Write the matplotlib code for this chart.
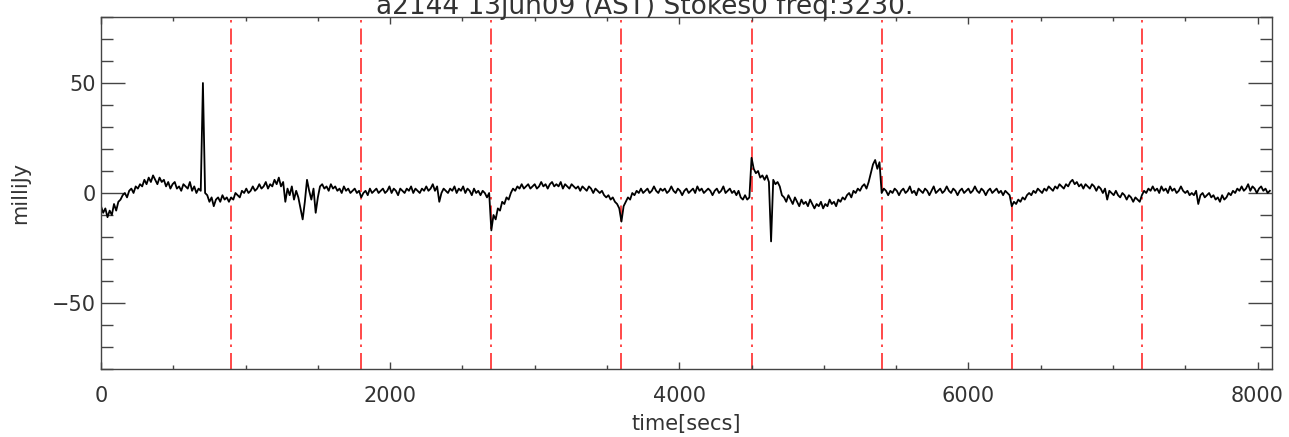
import numpy as np
import matplotlib
matplotlib.use('Agg')
import matplotlib.pyplot as plt
from matplotlib.ticker import MultipleLocator

# Stokes0 flux in milliJy, one list per 900 s scan, sampled every 15 s
scan_len = 900
step = 15
scan1 = [-6, -9, -7, -11, -8, -10, -5, -8, -4, -3,
         -1, 0, -2, 1, 2, 0, 3, 2, 4, 3,
         6, 4, 7, 5, 8, 6, 4, 7, 5, 6,
         3, 5, 2, 4, 5, 2, 3, 1, 4, 3,
         2, 5, 1, 3, 0, 2, 1, 50, 0, -1,
         -4, -2, -6, -3, -2, -4, -1, -3, -2, -4]
scan2 = [-2, -3, 0, -1, -2, 1, 0, 2, 0, 1,
         3, 1, 2, 4, 2, 3, 5, 2, 4, 3,
         6, 4, 7, 3, 5, -4, 2, -1, 3, -3,
         1, -2, -7, -12, -4, 6, 1, -3, 2, -9,
         -2, 3, 4, 2, 3, 1, 4, 2, 3, 1,
         2, 0, 3, 1, 2, 0, 1, 2, 0, 1]
scan3 = [-2, 0, 1, -1, 2, 0, 1, 2, 0, 1,
         2, 0, 1, 3, 0, 2, 1, -1, 2, 1,
         0, 2, 1, 3, 0, 2, 1, 0, 2, 1,
         3, 1, 2, 4, 1, 3, -4, 0, 2, 1,
         0, 2, 1, 3, 0, 2, 1, 3, 0, 2,
         1, -1, 2, 0, 1, -1, 1, 0, -2, 0]
scan4 = [-17, -10, -12, -7, -8, -4, -5, -2, -3, 0,
         2, 1, 3, 2, 4, 2, 3, 4, 2, 3,
         4, 2, 3, 5, 3, 4, 2, 4, 5, 3,
         4, 3, 5, 2, 4, 3, 2, 4, 3, 2,
         3, 1, 3, 2, 1, 3, 2, 0, 2, 1,
         0, 1, -1, -2, -1, -3, -2, -4, -5, -7]
scan5 = [-13, -6, -4, -2, -3, 0, -1, 1, 0, 2,
         0, 1, 2, 0, 1, 3, 1, 0, 2, 1,
         2, 0, 1, 3, 1, 0, 2, 1, -1, 1,
         2, 0, 1, 2, 0, 3, 1, 2, 0, 1,
         2, 1, -1, 1, 2, 0, 1, 3, 0, 1,
         2, 0, 1, -1, 1, -2, -3, -1, -3, -2]
scan6 = [16, 11, 9, 10, 7, 8, 6, 8, 5, -22,
         6, 4, 5, 3, -1, -2, -4, -1, -3, -5,
         -2, -4, -6, -3, -5, -4, -6, -3, -5, -7,
         -5, -6, -4, -7, -5, -6, -3, -5, -4, -6,
         -3, -4, -2, -3, -1, 0, -2, 1, 0, 2,
         1, 3, 4, 2, 5, 9, 13, 15, 11, 14]
scan7 = [0, 2, 1, -1, 1, 0, 2, 1, -1, 1,
         2, 0, 1, 3, 0, 1, -1, 2, 1, 0,
         2, 1, -1, 1, 3, 0, 1, 2, 0, 1,
         3, 1, 0, 2, 1, -1, 1, 2, 0, 1,
         2, 0, 1, 3, 1, 0, 2, 1, -1, 1,
         2, 0, 1, 2, 0, 1, -1, 1, 0, -1]
scan8 = [-6, -4, -5, -3, -4, -2, -3, -1, 0, -1,
         1, 0, 2, 1, 0, 2, 1, 3, 2, 1,
         3, 2, 4, 3, 2, 4, 3, 5, 6, 4,
         5, 3, 4, 2, 4, 3, 2, 4, 3, 1,
         3, 2, 0, 2, -3, 1, 0, -1, 1, -1,
         -2, 0, -1, -3, -1, -2, -4, -2, -3, -4]
scan9 = [-1, 1, 0, 2, 1, 3, 1, 2, 0, 3,
         1, 2, 0, 3, 1, 2, 0, 1, 3, 1,
         0, 1, -1, 0, -1, 1, -5, -1, 0, -2,
         -1, 0, -2, -1, -3, -2, -4, -1, -3, -2,
         0, -1, 1, 0, 2, 1, 3, 1, 2, 4,
         1, 3, 2, 0, 2, 3, 1, 2, 0, 1]
scans = [scan1, scan2, scan3, scan4, scan5, scan6, scan7, scan8, scan9]

flux = np.concatenate(scans)
time = np.arange(len(flux)) * step
scan_starts = [i * scan_len for i in range(len(scans))]

title = 'a2144 13jun09 (AST) Stokes0 freq:3230.'

plt.rcParams['font.family'] = ['DejaVu Sans']
fig = plt.figure(figsize=(12.89, 4.37), dpi=100)
ax = fig.add_axes([101 / 1289, 68 / 437, 1171 / 1289, 352 / 437])

for s in scan_starts:
    ax.axvline(s, color='#ff2a2a', lw=1.2, dashes=(9.6, 3.6, 1.5, 3.0), zorder=1)
ax.plot(time, flux, color='black', lw=1.3, zorder=2)

ax.set_xlim(0, 8100)
ax.set_ylim(-80, 80)
ax.xaxis.set_major_locator(MultipleLocator(2000))
ax.xaxis.set_minor_locator(MultipleLocator(500))
ax.yaxis.set_major_locator(MultipleLocator(50))
ax.yaxis.set_minor_locator(MultipleLocator(10))

ax.tick_params(axis='both', which='both', direction='in', top=True, right=True,
               colors='#444444', labelcolor='#333333', labelsize=15, width=1)
ax.tick_params(axis='y', which='major', length=17)
ax.tick_params(axis='y', which='minor', length=8.5)
ax.tick_params(axis='x', which='major', length=5, pad=12)
ax.tick_params(axis='x', which='minor', length=3)
for sp in ax.spines.values():
    sp.set_color('#444444')
    sp.set_linewidth(1)

ax.set_xlabel('time[secs]', fontsize=15, color='#333333', labelpad=6)
ax.set_ylabel('milliJy', fontsize=15, color='#333333', labelpad=16)
fig.text(0.5, (437 - 14) / 437, title, ha='center', va='baseline',
         fontsize=19, color='#333333')

fig.savefig('out.png', dpi=100)
